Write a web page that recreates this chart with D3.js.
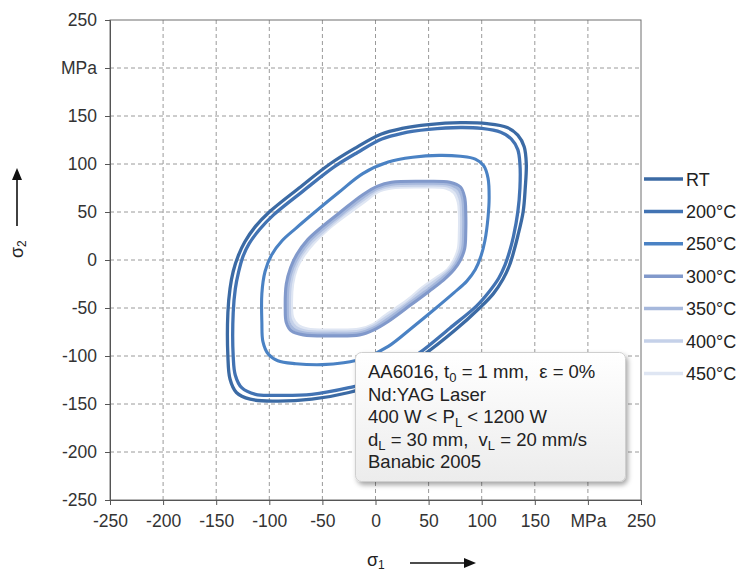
<!DOCTYPE html>
<html>
<head>
<meta charset="utf-8">
<script src="https://cdn.jsdelivr.net/npm/d3@7"></script>
<style>
  html, body { margin: 0; padding: 0; background: #fff; }
  svg { display: block; font-family: "Liberation Sans", Arial, sans-serif; }
</style>
</head>
<body>
<svg id="chart" width="739" height="574"></svg>
<script>
// Yield loci of AA6016 (Banabic 2005) at different laser treatment temperatures
const seriesNames = ["RT", "200°C", "250°C", "300°C", "350°C", "400°C", "450°C"];
const seriesColors = ["#3b6aa4", "#4273b3", "#4a82c4", "#8199cb", "#a6b8dc", "#c5d1e9", "#dfe6f3"];

// [σ1, σ2] in MPa along each locus
const locusRT = [[130,8],[134,25],[139,50],[141,75],[142,100],[140,118],[134,130],[124,138],[105,142],[80,143],[50,141],[25,137],[5,131],[-20,116],[-43,100],[-72,75],[-100,50],[-113,35],[-123,19],[-129,5],[-134,-12],[-137,-30],[-139,-55],[-139,-100],[-137,-124],[-131,-138],[-118,-145],[-95,-147],[-60,-145],[-25,-138],[-5,-131],[20,-116],[45,-99],[75,-73],[98,-50],[111,-35],[120,-20],[126,-6]];
const locus200 = [[126,8],[130,25],[134,50],[136,75],[136,100],[134,115],[128,126],[118,133],[100,137],[80,138],[50,136],[25,132],[6,126],[-17,112],[-39,97],[-68,72],[-96,47],[-109,32],[-119,17],[-125,3],[-129,-13],[-132,-30],[-134,-55],[-134,-100],[-132,-120],[-126,-133],[-113,-140],[-95,-141],[-60,-140],[-25,-133],[-5,-127],[18,-113],[41,-97],[70,-71],[95,-48],[107,-33],[116,-19],[122,-5]];
const locus250 = [[99,3],[103,20],[106,45],[107,65],[106,85],[102,98],[94,105],[80,108],[60,109],[35,107],[12,102],[-12,90],[-35,70],[-57,50],[-75,33],[-88,20],[-98,5],[-104,-12],[-107,-35],[-107,-65],[-106,-85],[-101,-98],[-92,-105],[-75,-108],[-50,-109],[-30,-107],[-10,-102],[12,-90],[35,-70],[57,-50],[74,-34],[86,-22],[94,-10]];
const locus300 = [[80,0],[84,12],[85,30],[85,48],[84,65],[80,76],[70,81],[45,82],[15,81],[2,77],[-12,68],[-33,50],[-50,35],[-64,21],[-74,6],[-80,-8],[-84,-25],[-85,-50],[-84,-65],[-79,-74],[-68,-78],[-40,-79],[-15,-78],[-2,-73],[12,-64],[33,-47],[50,-33],[64,-21],[74,-10]];
const locus350 = [[78,0],[82,12],[83,30],[83,48],[82,64],[78,74],[69,79],[45,80],[15,79],[2,75],[-11,66],[-32,48],[-49,33],[-62,20],[-72,5],[-78,-8],[-82,-25],[-83,-50],[-82,-64],[-77,-72],[-67,-76],[-40,-77],[-15,-76],[-2,-71],[11,-62],[32,-45],[48,-32],[62,-20],[72,-10]];
const locus400 = [[76,0],[80,12],[81,30],[81,48],[80,62],[76,72],[68,77],[45,78],[15,77],[2,73],[-10,64],[-31,47],[-47,32],[-60,19],[-70,5],[-76,-8],[-80,-25],[-81,-50],[-80,-62],[-75,-70],[-66,-74],[-40,-75],[-15,-74],[-2,-69],[10,-60],[31,-44],[46,-30],[60,-19],[70,-10]];
const locus450 = [[74,0],[78,12],[79,30],[79,48],[78,60],[74,70],[66,75],[45,76],[15,75],[2,71],[-9,62],[-30,45],[-46,31],[-58,18],[-68,4],[-74,-8],[-78,-25],[-79,-50],[-78,-60],[-73,-68],[-64,-72],[-40,-73],[-15,-72],[-2,-67],[9,-58],[30,-42],[44,-29],[58,-18],[68,-10]];

const axisTicks = [-250, -200, -150, -100, -50, 0, 50, 100, 150, 200, 250];
const unitTick = 200; // tick position that carries the unit label

const loci = [locusRT, locus200, locus250, locus300, locus350, locus400, locus450];

const svg = d3.select("#chart");
const x = d3.scaleLinear().domain([-250, 250]).range([110, 641]);
const y = d3.scaleLinear().domain([-250, 250]).range([500, 20]);

const defs = svg.append("defs");
const grad = defs.append("linearGradient").attr("id", "boxFill").attr("x1", 0).attr("y1", 0).attr("x2", 0).attr("y2", 1);
grad.append("stop").attr("offset", "0%").attr("stop-color", "#ffffff");
grad.append("stop").attr("offset", "100%").attr("stop-color", "#ececec");
const shadow = defs.append("filter").attr("id", "boxShadow").attr("x", "-10%").attr("y", "-10%").attr("width", "130%").attr("height", "130%");
shadow.append("feDropShadow").attr("dx", 2).attr("dy", 3).attr("stdDeviation", 2.5).attr("flood-color", "#000").attr("flood-opacity", 0.35);
defs.append("clipPath").attr("id", "plotClip").append("rect")
  .attr("x", x(-250)).attr("y", y(250)).attr("width", x(250) - x(-250)).attr("height", y(-250) - y(250));

// dashed grid
const inner = axisTicks.filter(v => v > -250 && v < 250);
svg.append("g").selectAll("line").data(inner).join("line")
  .attr("x1", d => x(d)).attr("x2", d => x(d)).attr("y1", y(250)).attr("y2", y(-250))
  .attr("stroke", "#9a9a9a").attr("stroke-width", 1).attr("stroke-dasharray", "4,3");
svg.append("g").selectAll("line").data(inner).join("line")
  .attr("y1", d => y(d)).attr("y2", d => y(d)).attr("x1", x(-250)).attr("x2", x(250))
  .attr("stroke", "#9a9a9a").attr("stroke-width", 1).attr("stroke-dasharray", "4,3");

// frame
svg.append("rect").attr("x", x(-250)).attr("y", y(250))
  .attr("width", x(250) - x(-250)).attr("height", y(-250) - y(250))
  .attr("fill", "none").attr("stroke", "#6e6e6e").attr("stroke-width", 1);

// axes (plain hyphen for negative numbers)
const fmt = d => d === unitTick ? "MPa" : String(d);
const xAxis = svg.append("g").attr("transform", `translate(0,${y(-250)})`)
  .call(d3.axisBottom(x).tickValues(axisTicks).tickFormat(fmt).tickSize(5).tickPadding(10));
const yAxis = svg.append("g").attr("transform", `translate(${x(-250)},0)`)
  .call(d3.axisLeft(y).tickValues(axisTicks).tickFormat(fmt).tickSize(5).tickPadding(8));
[xAxis, yAxis].forEach(g => {
  g.select(".domain").attr("stroke", "#555");
  g.selectAll(".tick line").attr("stroke", "#555");
  g.selectAll(".tick text").attr("fill", "#333").style("font-size", "17.5px")
    .style("font-family", '"Liberation Sans", Arial, sans-serif');
});

// loci
const line = d3.line().x(d => x(d[0])).y(d => y(d[1])).curve(d3.curveCatmullRomClosed.alpha(0.5));
const lociG = svg.append("g").attr("clip-path", "url(#plotClip)");
for (let i = loci.length - 1; i >= 0; i--) {
  lociG.append("path").datum(loci[i]).attr("d", line)
    .attr("fill", "none").attr("stroke", seriesColors[i])
    .attr("stroke-width", i < 2 ? 3.3 : 3.1).attr("stroke-linejoin", "round");
}

// legend
const lg = svg.append("g");
seriesNames.forEach((name, i) => {
  const yy = 179 + i * 32.4;
  lg.append("line").attr("x1", 644).attr("x2", 683).attr("y1", yy).attr("y2", yy)
    .attr("stroke", seriesColors[i]).attr("stroke-width", 3.5);
  lg.append("text").attr("x", 686).attr("y", yy + 6.5).text(name)
    .attr("fill", "#222").style("font-size", "18px");
});

// annotation box
const box = svg.append("g");
box.append("rect").attr("x", 355.5).attr("y", 352.5).attr("width", 270).attr("height", 129)
  .attr("rx", 6).attr("fill", "url(#boxFill)").attr("stroke", "#cfcfcf").attr("filter", "url(#boxShadow)");
// each line: list of [text, isSubscript]
const noteLines = [
  [["AA6016, t", false], ["0", true], [" = 1 mm,  ε = 0%", false]],
  [["Nd:YAG Laser", false]],
  [["400 W < P", false], ["L", true], [" < 1200 W", false]],
  [["d", false], ["L", true], [" = 30 mm,  v", false], ["L", true], [" = 20 mm/s", false]],
  [["Banabic 2005", false]]
];
noteLines.forEach((parts, i) => {
  const t = box.append("text").attr("x", 368).attr("y", 378 + i * 22.6)
    .attr("fill", "#222").style("font-size", "18.5px").style("white-space", "pre");
  let shifted = false;
  parts.forEach(([s, sub]) => {
    const ts = t.append("tspan").text(s);
    if (sub) { ts.attr("dy", 4).style("font-size", "13px"); shifted = true; }
    else if (shifted) { ts.attr("dy", -4); shifted = false; }
  });
});

// axis titles with arrows
const ttl = svg.append("g").attr("fill", "#222");
ttl.append("text").attr("x", 367).attr("y", 566).style("font-size", "18px")
  .call(t => { t.append("tspan").text("σ"); t.append("tspan").text("1").attr("dy", 3).style("font-size", "12px"); });
ttl.append("line").attr("x1", 410).attr("x2", 466).attr("y1", 563).attr("y2", 563).attr("stroke", "#111").attr("stroke-width", 1.6);
ttl.append("path").attr("d", "M476,563 L464,558 L464,568 Z").attr("fill", "#111");
ttl.append("text").attr("transform", "translate(23,258) rotate(-90)").style("font-size", "18px")
  .call(t => { t.append("tspan").text("σ"); t.append("tspan").text("2").attr("dy", 3).style("font-size", "12px"); });
ttl.append("line").attr("x1", 17).attr("x2", 17).attr("y1", 226).attr("y2", 178).attr("stroke", "#111").attr("stroke-width", 1.6);
ttl.append("path").attr("d", "M17,168 L12,180 L22,180 Z").attr("fill", "#111");
</script>
</body>
</html>
